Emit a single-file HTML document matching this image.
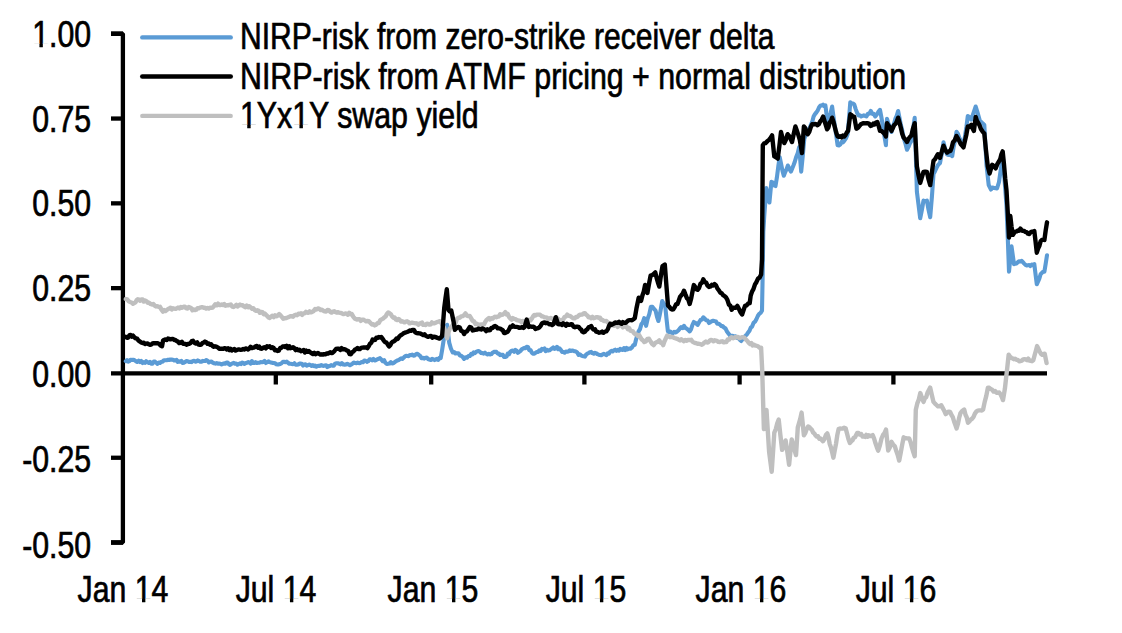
<!DOCTYPE html>
<html><head><meta charset="utf-8"><style>
html,body{margin:0;padding:0;background:#fff;width:1122px;height:633px;overflow:hidden}
body{position:relative;font-family:"Liberation Sans",sans-serif;color:#000;-webkit-text-stroke:0.7px #000}
.yl{position:absolute;right:1030.5px;font-size:36px;line-height:42px;white-space:nowrap;transform:scaleX(0.84);transform-origin:100% 0}
.xl{position:absolute;top:569px;width:200px;text-align:center;font-size:36px;line-height:42px;white-space:nowrap;transform:scaleX(0.84);transform-origin:50% 0}
.lg{position:absolute;left:239.8px;font-size:36px;line-height:42px;white-space:nowrap;transform:scaleX(0.84);transform-origin:0 0}
svg{position:absolute;left:0;top:0}
.one{display:inline-block;clip-path:polygon(0 0,100% 0,100% 70.5%,63% 70.5%,63% 100%,43% 100%,43% 70.5%,0 70.5%)}
</style></head><body>
<svg width="1122" height="633" viewBox="0 0 1122 633">
<g stroke="#000" stroke-width="4.3" fill="none">
<path d="M111,33.75 L122.9,33.75 L122.9,542.5 L111,542.5" stroke-linejoin="bevel"/>
<line x1="111" y1="373.35" x2="1047" y2="373.35"/>
<line x1="111" y1="33.75" x2="123" y2="33.75"/><line x1="111" y1="118.55" x2="123" y2="118.55"/><line x1="111" y1="203.35" x2="123" y2="203.35"/><line x1="111" y1="288.15" x2="123" y2="288.15"/><line x1="111" y1="457.75" x2="123" y2="457.75"/><line x1="111" y1="542.55" x2="123" y2="542.55"/><line x1="275.80" y1="373" x2="275.80" y2="384.5"/><line x1="431.20" y1="373" x2="431.20" y2="384.5"/><line x1="584.40" y1="373" x2="584.40" y2="384.5"/><line x1="739.60" y1="373" x2="739.60" y2="384.5"/><line x1="893.40" y1="373" x2="893.40" y2="384.5"/>
</g>
<g fill="none" stroke-linecap="round" stroke-linejoin="round">
<line x1="142.3" y1="37.4" x2="230.7" y2="37.4" stroke="#5b9bd5" stroke-width="4.4"/>
<line x1="142.3" y1="76.5" x2="230.7" y2="76.5" stroke="#000" stroke-width="4.6"/>
<line x1="142.3" y1="115.9" x2="230.7" y2="115.9" stroke="#bfbfbf" stroke-width="4.4"/>
<path d="M125.8,361.2 L127.0,360.1 L128.2,361.6 L129.4,361.1 L130.6,359.7 L131.8,360.0 L133.0,359.8 L134.4,360.1 L135.8,361.1 L137.2,361.9 L138.6,360.7 L140.0,362.1 L141.2,361.0 L142.5,363.0 L143.8,362.1 L145.0,362.9 L146.2,361.2 L147.5,362.3 L148.8,363.0 L150.0,361.8 L151.2,363.6 L152.5,363.6 L153.8,361.5 L155.0,361.6 L156.2,362.8 L157.5,363.9 L158.8,362.6 L160.0,362.9 L161.3,361.7 L162.7,361.7 L164.0,360.2 L165.3,360.2 L166.7,360.2 L168.0,359.8 L169.2,360.0 L170.4,359.5 L171.6,359.6 L172.9,359.8 L174.1,360.5 L175.3,360.3 L176.5,359.8 L177.7,361.9 L178.9,361.4 L180.1,361.8 L181.4,360.9 L182.6,363.0 L183.8,362.8 L185.0,362.1 L186.3,361.0 L187.7,361.3 L189.0,362.0 L190.3,361.8 L191.7,362.1 L193.0,360.9 L194.2,360.7 L195.4,361.7 L196.6,361.3 L197.8,360.4 L199.0,361.1 L200.2,361.8 L201.4,361.7 L202.6,360.9 L203.8,361.1 L205.0,360.9 L206.3,360.1 L207.6,360.8 L208.9,362.5 L210.2,361.8 L211.5,361.5 L212.8,362.7 L214.1,363.3 L215.4,363.6 L216.7,363.1 L218.0,363.7 L219.2,363.6 L220.4,363.7 L221.6,364.4 L222.9,363.8 L224.1,363.4 L225.3,363.7 L226.5,362.6 L227.7,362.6 L228.9,364.2 L230.1,364.9 L231.4,363.9 L232.6,363.4 L233.8,362.9 L235.0,363.7 L236.2,363.6 L237.4,364.7 L238.6,364.1 L239.8,363.4 L241.0,364.1 L242.2,362.5 L243.4,363.1 L244.6,364.0 L245.9,363.0 L247.1,362.7 L248.3,362.1 L249.5,362.7 L250.7,363.6 L251.9,361.2 L253.1,363.0 L254.3,363.0 L255.5,362.1 L256.8,363.0 L258.1,362.7 L259.4,362.8 L260.7,362.1 L262.0,362.2 L263.2,361.9 L264.5,361.0 L265.8,363.0 L267.1,362.3 L268.4,361.4 L269.7,362.1 L271.0,362.5 L272.3,362.9 L273.6,363.0 L275.0,363.3 L276.3,364.2 L277.6,364.5 L278.9,364.4 L280.2,364.0 L281.6,363.2 L282.9,361.8 L284.2,361.9 L285.5,362.1 L286.8,361.6 L288.0,362.8 L289.3,363.7 L290.6,363.8 L291.9,364.0 L293.1,364.3 L294.4,363.2 L295.7,364.8 L296.9,364.7 L298.2,364.5 L299.4,363.6 L300.6,363.6 L301.8,363.7 L303.1,365.6 L304.3,364.5 L305.5,364.3 L306.7,365.7 L307.9,365.1 L309.1,364.6 L310.4,364.9 L311.6,365.9 L312.8,365.2 L314.0,366.1 L315.2,365.6 L316.4,366.6 L317.6,366.0 L318.8,365.7 L320.0,366.0 L321.2,365.0 L322.5,365.8 L323.7,365.9 L324.9,365.4 L326.1,365.2 L327.3,367.1 L328.5,366.1 L329.7,366.1 L331.1,365.1 L332.4,365.7 L333.8,365.8 L335.1,363.6 L336.5,363.2 L337.8,363.2 L339.2,363.7 L340.6,364.3 L341.9,363.1 L343.3,364.5 L344.6,364.6 L346.0,364.4 L347.3,363.7 L348.7,364.5 L350.0,365.3 L351.2,364.6 L352.5,363.6 L353.7,362.6 L355.0,362.9 L356.4,363.3 L357.7,362.6 L359.0,363.1 L360.4,362.9 L361.7,362.0 L363.0,362.3 L364.3,360.5 L365.6,360.7 L366.9,361.8 L368.2,361.2 L369.5,359.4 L370.8,359.4 L372.1,360.3 L373.4,358.9 L374.7,360.5 L376.1,360.0 L377.4,359.2 L378.7,358.8 L380.0,358.2 L381.3,359.4 L382.7,361.2 L384.1,360.1 L385.4,362.8 L386.8,364.0 L388.2,363.8 L389.5,363.5 L390.8,362.1 L392.1,363.4 L393.4,363.2 L394.7,362.1 L396.0,361.2 L397.3,360.4 L398.6,360.3 L399.8,359.3 L401.1,358.4 L402.3,358.9 L403.6,357.7 L404.8,356.5 L406.1,355.7 L407.3,356.0 L408.5,356.1 L409.8,355.0 L411.0,355.2 L412.3,354.6 L413.5,355.6 L414.8,355.4 L416.0,354.2 L417.4,353.7 L418.8,354.9 L420.1,355.9 L421.5,358.2 L422.9,357.7 L424.2,358.6 L425.5,357.7 L426.8,357.6 L428.1,359.0 L429.5,359.6 L430.8,360.0 L432.1,358.8 L433.4,359.4 L434.6,360.1 L435.8,359.4 L437.0,358.8 L438.3,359.8 L439.5,357.8 L440.7,358.2 L442.1,350.2 L443.5,341.1 L444.7,334.7 L445.9,329.4 L447.1,324.8 L449.2,342.6 L450.9,348.5 L452.7,352.5 L454.1,352.0 L455.5,353.5 L457.0,353.3 L458.4,353.2 L459.8,355.4 L461.2,355.7 L462.7,357.1 L464.1,358.9 L465.5,357.4 L466.9,357.8 L468.4,356.1 L469.8,356.0 L471.2,353.9 L472.4,354.5 L473.7,352.4 L474.9,353.1 L476.1,351.8 L477.3,351.3 L478.6,351.1 L479.8,351.8 L481.1,353.0 L482.4,353.1 L483.7,353.6 L485.0,352.7 L486.2,353.7 L487.5,354.4 L488.8,353.8 L490.1,354.4 L491.4,354.1 L492.6,352.7 L493.9,351.9 L495.1,351.8 L496.4,351.9 L497.7,353.6 L498.9,353.5 L500.2,355.1 L501.5,354.7 L502.8,354.9 L504.0,356.9 L505.3,356.9 L506.6,356.6 L507.8,353.6 L509.0,354.2 L510.3,351.7 L511.5,350.7 L512.8,350.6 L514.1,351.8 L515.4,350.0 L516.6,350.8 L517.9,352.8 L519.2,351.9 L520.5,350.9 L521.7,349.3 L523.0,348.6 L524.2,347.9 L525.5,348.2 L526.7,346.8 L528.0,347.0 L529.2,350.1 L530.5,350.0 L531.8,352.6 L533.0,353.6 L534.3,353.8 L535.6,352.7 L536.8,352.0 L538.1,351.9 L539.4,350.3 L540.7,351.0 L541.9,348.9 L543.2,349.4 L544.5,348.5 L545.7,351.2 L547.0,349.8 L548.2,350.6 L549.5,350.3 L550.7,349.4 L552.0,348.5 L553.2,347.4 L554.5,348.9 L555.7,348.5 L557.0,346.8 L558.3,349.2 L559.5,348.4 L560.8,349.9 L562.1,351.9 L563.4,352.0 L564.6,352.7 L565.9,351.5 L567.2,351.7 L568.4,351.5 L569.7,350.3 L570.9,350.9 L572.2,350.6 L573.5,350.8 L574.7,351.3 L576.0,351.5 L577.3,352.6 L578.5,354.9 L579.8,354.3 L581.1,355.4 L582.3,356.0 L583.6,356.3 L584.9,356.6 L586.1,354.6 L587.4,353.6 L588.7,353.0 L589.9,352.2 L591.2,351.9 L592.5,353.2 L593.7,353.7 L595.0,352.8 L596.2,353.3 L597.5,354.2 L598.7,354.7 L600.0,355.0 L601.3,355.3 L602.6,354.4 L603.8,353.9 L605.1,354.5 L606.4,355.1 L607.6,353.3 L608.9,353.7 L610.1,351.7 L611.4,350.9 L612.6,351.5 L613.9,350.4 L615.2,349.7 L616.4,350.8 L617.7,349.9 L619.0,350.6 L620.2,348.8 L621.5,349.5 L622.8,350.0 L624.0,348.1 L625.3,350.1 L626.6,348.0 L627.8,349.3 L629.1,348.5 L630.5,348.7 L632.0,347.4 L633.4,345.2 L634.8,344.7 L636.1,339.3 L637.3,335.9 L638.6,331.4 L640.0,329.1 L641.4,324.3 L642.8,322.4 L644.2,318.2 L646.1,325.8 L647.7,318.6 L649.3,314.1 L650.9,306.8 L652.5,306.9 L654.0,308.9 L655.6,310.6 L657.0,316.8 L658.4,321.0 L659.7,315.1 L660.9,308.7 L662.2,301.1 L663.7,303.8 L665.1,304.9 L666.5,318.7 L667.9,331.4 L669.1,332.3 L670.3,331.6 L671.5,332.7 L672.7,333.3 L674.1,331.8 L675.5,332.4 L676.9,331.6 L678.3,330.5 L679.7,328.7 L681.1,327.1 L682.6,328.1 L684.0,325.8 L685.4,327.9 L686.9,328.7 L688.3,330.1 L689.7,331.4 L691.1,329.1 L692.4,325.0 L693.8,322.0 L695.1,322.7 L696.3,323.5 L697.6,324.9 L699.0,322.4 L700.5,320.0 L701.9,319.6 L703.3,317.3 L704.7,318.5 L706.1,320.3 L707.6,320.5 L709.0,323.0 L710.4,322.2 L711.8,321.2 L713.2,320.7 L714.6,321.1 L716.0,321.5 L717.3,323.8 L718.7,323.7 L720.0,324.6 L721.4,326.1 L722.7,326.1 L724.1,327.7 L725.5,328.4 L727.0,331.6 L728.4,333.4 L729.8,335.3 L731.2,335.9 L732.6,335.7 L734.1,336.5 L735.5,336.3 L736.9,338.0 L738.4,338.0 L739.8,339.8 L741.2,341.0 L742.6,339.3 L744.0,337.0 L745.5,335.8 L746.9,334.4 L748.2,332.3 L749.4,330.9 L750.7,327.7 L752.1,326.6 L753.5,322.9 L755.0,321.7 L756.4,319.2 L757.8,316.0 L759.2,313.9 L760.6,312.9 L762.0,310.7 L762.6,278.4 L763.3,232.0 L764.2,216.8 L766.3,188.0 L767.8,196.2 L769.4,202.5 L771.4,181.9 L772.8,182.4 L774.1,185.3 L775.5,186.0 L776.9,177.4 L778.3,166.4 L779.7,157.3 L781.1,163.9 L782.4,170.4 L783.8,175.7 L785.2,172.0 L786.5,169.4 L787.9,165.5 L789.5,169.1 L791.0,171.6 L792.3,168.3 L793.5,165.3 L794.8,161.8 L796.1,157.3 L797.7,153.3 L799.2,147.0 L801.2,171.6 L802.8,155.4 L804.3,138.8 L805.6,135.4 L806.8,133.1 L808.1,130.4 L809.4,128.5 L810.8,125.1 L812.2,121.9 L813.6,116.6 L815.0,114.1 L816.4,112.4 L817.8,110.3 L819.1,107.3 L820.5,105.5 L821.7,105.5 L823.0,104.7 L824.2,106.1 L825.4,105.5 L827.7,123.2 L829.2,116.6 L830.6,113.3 L832.1,106.6 L833.5,117.0 L834.9,126.3 L836.2,135.1 L837.6,145.3 L838.9,145.4 L840.2,144.6 L841.6,141.8 L842.9,142.4 L844.2,140.9 L845.9,138.4 L847.6,134.2 L849.0,118.6 L850.3,102.2 L851.6,103.4 L852.9,103.5 L854.2,104.4 L855.7,109.1 L857.1,112.9 L858.6,115.4 L859.9,115.3 L861.2,116.5 L862.5,115.8 L863.8,115.3 L865.1,115.9 L866.4,116.5 L867.9,113.8 L869.3,113.8 L870.8,111.0 L872.3,113.9 L873.7,113.8 L875.2,116.5 L876.8,114.5 L878.4,111.9 L880.0,109.9 L881.5,117.8 L883.0,127.1 L884.4,135.8 L885.9,145.3 L887.0,118.8 L888.5,123.8 L890.0,126.4 L891.5,132.0 L892.8,127.1 L894.1,123.5 L895.5,118.3 L896.8,115.5 L898.1,111.0 L899.5,117.9 L900.9,125.1 L902.2,130.2 L903.6,137.6 L905.3,143.1 L907.0,149.7 L908.5,146.9 L909.9,143.3 L911.4,140.9 L913.0,129.5 L914.7,117.7 L916.9,191.8 L918.5,204.5 L920.2,218.3 L921.9,209.9 L923.5,200.6 L925.2,201.3 L926.9,200.6 L928.5,209.6 L930.2,217.2 L931.9,196.8 L933.5,174.1 L935.0,171.2 L936.4,168.1 L937.9,165.2 L940.0,163.0 L941.8,153.5 L943.5,142.2 L945.2,148.9 L947.0,154.3 L948.3,154.9 L949.6,154.9 L950.9,155.1 L952.2,156.1 L953.6,147.0 L955.1,140.6 L956.5,131.7 L957.9,133.6 L959.3,137.9 L960.7,140.2 L962.1,144.0 L963.5,145.7 L964.9,136.5 L966.4,127.1 L967.8,116.1 L969.5,117.0 L971.3,119.6 L972.8,115.2 L974.2,111.0 L975.7,106.5 L977.1,111.0 L978.6,116.4 L980.0,121.3 L981.4,122.1 L982.9,123.7 L984.3,124.8 L986.5,165.0 L988.7,185.0 L991.0,189.5 L992.5,187.6 L994.0,188.0 L995.5,188.1 L997.0,188.5 L999.0,182.0 L1001.0,168.0 L1002.7,155.0 L1004.0,171.8 L1005.2,188.4 L1006.5,205.8 L1007.8,238.5 L1009.0,271.6 L1010.2,259.6 L1011.5,246.3 L1012.8,255.6 L1014.0,264.1 L1015.3,263.6 L1016.6,263.4 L1017.8,262.2 L1019.1,261.3 L1020.4,261.5 L1021.7,260.9 L1022.9,262.2 L1024.2,263.6 L1025.5,264.9 L1026.7,265.5 L1028.0,265.3 L1029.3,265.1 L1030.5,266.0 L1031.8,264.5 L1033.0,265.1 L1034.3,264.1 L1035.5,274.0 L1036.8,284.3 L1038.1,281.5 L1039.3,278.7 L1040.6,274.2 L1041.9,272.9 L1043.1,271.7 L1044.4,271.6 L1045.7,263.7 L1047.0,255.2" stroke="#5b9bd5" stroke-width="4.1"/>
<path d="M125.8,299.0 L127.2,299.4 L128.6,301.1 L130.0,302.0 L131.5,302.5 L133.0,303.7 L134.2,303.1 L135.4,302.4 L136.6,300.3 L137.8,299.3 L139.0,299.7 L140.2,300.7 L141.4,299.4 L142.6,299.5 L143.8,301.5 L145.0,300.5 L146.4,301.2 L147.8,302.9 L149.2,302.8 L150.6,304.0 L152.0,304.5 L153.3,304.0 L154.7,305.6 L156.0,306.5 L157.3,306.1 L158.7,307.0 L160.0,306.8 L161.5,309.6 L163.0,311.6 L164.2,310.0 L165.5,311.0 L166.8,310.0 L168.0,309.2 L169.2,308.5 L170.5,307.7 L171.8,309.5 L173.0,308.3 L174.2,308.7 L175.5,308.9 L176.8,308.3 L178.0,307.6 L179.4,308.5 L180.8,307.0 L182.2,307.8 L183.6,306.8 L185.0,306.8 L186.2,308.2 L187.5,308.5 L188.8,307.0 L190.0,307.5 L191.2,308.1 L192.5,310.3 L193.8,309.4 L195.0,310.0 L196.2,309.7 L197.5,308.3 L198.8,308.2 L200.0,307.6 L201.2,307.3 L202.5,307.2 L203.8,307.8 L205.0,307.8 L206.2,308.6 L207.5,308.0 L208.8,308.6 L210.0,307.6 L211.3,307.8 L212.7,307.5 L214.0,306.1 L215.3,304.2 L216.7,305.2 L218.0,303.7 L219.2,305.0 L220.5,305.1 L221.8,304.5 L223.0,305.0 L224.2,304.0 L225.5,305.7 L226.8,305.3 L228.0,305.3 L229.4,304.9 L230.8,304.5 L232.2,306.6 L233.6,307.0 L235.0,306.0 L236.3,304.9 L237.5,306.4 L238.8,305.4 L240.0,304.6 L241.3,305.3 L242.7,305.1 L244.0,306.6 L245.4,307.2 L246.7,305.5 L248.1,307.2 L249.4,306.2 L250.8,307.6 L252.1,308.7 L253.4,308.3 L254.8,310.1 L256.1,310.9 L257.4,310.3 L258.7,310.8 L259.9,312.8 L261.1,311.9 L262.4,312.2 L263.6,314.2 L264.8,313.6 L266.0,314.8 L267.3,316.1 L268.5,317.4 L269.7,317.9 L271.1,316.5 L272.4,315.7 L273.8,317.1 L275.1,315.2 L276.5,316.2 L277.8,315.5 L279.2,314.0 L280.5,315.3 L281.9,317.0 L283.2,318.7 L284.6,318.3 L286.0,318.1 L287.5,317.5 L288.9,316.9 L290.3,316.3 L291.6,316.3 L293.0,316.7 L294.3,315.3 L295.7,314.8 L297.0,315.2 L298.4,313.7 L299.7,314.0 L300.9,313.3 L302.2,314.8 L303.4,313.5 L304.6,313.4 L305.9,311.9 L307.1,312.7 L308.3,312.9 L309.6,311.4 L310.8,312.4 L312.2,311.9 L313.6,311.1 L315.1,308.9 L316.5,309.5 L317.9,308.4 L319.3,308.9 L320.6,310.0 L322.0,309.8 L323.4,310.8 L324.8,311.4 L326.1,311.6 L327.5,310.0 L328.8,310.2 L330.2,311.8 L331.5,312.6 L332.9,311.6 L334.1,311.3 L335.4,312.0 L336.6,312.6 L337.8,312.2 L339.1,312.6 L340.3,312.8 L341.5,313.2 L342.8,314.0 L344.0,314.0 L345.3,313.5 L346.6,313.7 L347.9,314.7 L349.2,312.9 L350.5,314.2 L351.8,314.0 L353.4,316.9 L355.0,318.7 L356.9,319.5 L358.2,319.2 L359.5,319.2 L360.8,320.8 L362.1,319.6 L363.5,319.7 L364.8,320.5 L366.1,321.3 L367.4,321.0 L368.9,321.2 L370.5,322.9 L372.0,324.5 L373.3,324.2 L374.7,325.4 L376.0,324.7 L377.4,323.3 L378.8,323.1 L380.2,320.2 L381.6,319.4 L383.0,318.6 L384.3,317.4 L385.6,316.5 L386.9,313.9 L388.2,312.5 L389.5,313.2 L390.8,314.2 L392.1,316.5 L393.4,317.8 L394.6,317.5 L395.9,319.5 L397.1,320.1 L398.4,319.0 L399.6,319.7 L400.9,321.5 L402.1,321.2 L403.3,321.8 L404.6,322.4 L405.8,321.6 L407.1,321.3 L408.3,322.0 L409.6,323.4 L410.8,323.0 L412.0,322.6 L413.3,322.9 L414.5,323.1 L415.8,323.3 L417.0,323.4 L418.3,324.7 L419.5,323.8 L420.7,323.0 L422.0,322.6 L423.2,324.9 L424.5,324.7 L425.7,325.0 L427.0,323.6 L428.2,323.8 L429.4,324.6 L430.7,324.3 L431.9,322.4 L433.1,323.4 L434.3,323.4 L435.6,322.7 L436.8,322.1 L438.4,321.7 L440.0,321.2 L441.4,323.1 L442.8,325.6 L444.2,328.3 L445.6,332.6 L447.1,338.3 L448.5,332.3 L449.9,328.3 L451.3,327.1 L452.8,325.0 L454.2,324.1 L455.6,322.7 L457.0,318.7 L458.4,317.7 L459.8,317.8 L461.2,316.4 L462.7,316.1 L464.1,315.2 L465.5,313.4 L466.9,315.6 L468.4,316.1 L469.8,316.0 L471.2,318.4 L472.6,320.9 L474.1,321.4 L475.5,324.1 L476.9,323.8 L478.3,324.8 L479.8,324.6 L481.2,324.5 L482.6,324.8 L483.9,324.4 L485.1,322.2 L486.4,320.1 L487.6,319.0 L488.9,318.1 L490.1,319.4 L491.4,318.2 L492.6,318.6 L493.9,317.4 L495.1,316.7 L496.4,317.2 L497.7,316.6 L498.9,316.5 L500.2,314.2 L501.5,315.0 L502.8,314.6 L504.0,313.6 L505.3,312.1 L506.6,314.5 L507.8,314.1 L509.1,317.1 L510.3,318.4 L511.6,319.6 L512.8,318.0 L514.1,318.8 L515.4,319.1 L516.6,320.0 L517.9,320.3 L519.2,320.6 L520.4,321.1 L521.7,322.3 L522.9,320.9 L524.2,321.5 L525.4,322.1 L526.7,323.5 L528.0,321.2 L529.2,319.7 L530.5,320.4 L531.7,318.8 L533.0,316.5 L534.3,315.0 L535.5,315.6 L536.8,314.6 L538.1,314.6 L539.4,314.6 L540.7,315.2 L541.9,316.4 L543.2,316.5 L544.5,317.3 L545.7,317.4 L547.0,317.6 L548.2,319.0 L549.5,318.5 L550.7,317.9 L552.0,318.8 L553.3,319.1 L554.5,318.2 L555.8,318.4 L557.0,318.0 L558.3,318.9 L559.5,320.0 L560.8,321.0 L562.1,320.0 L563.4,319.1 L564.6,316.9 L565.9,316.6 L567.2,314.6 L568.5,315.7 L569.7,316.0 L571.0,316.6 L572.2,317.6 L573.5,318.4 L574.8,318.3 L576.0,317.0 L577.3,317.0 L578.5,315.8 L579.8,314.7 L581.1,314.7 L582.3,314.5 L583.6,313.4 L584.9,313.1 L586.1,314.7 L587.4,315.5 L588.6,317.4 L589.9,317.2 L591.2,318.2 L592.4,316.9 L593.7,318.2 L594.9,317.9 L596.2,317.2 L597.5,317.1 L598.8,318.1 L600.0,317.7 L601.3,319.9 L602.6,320.0 L603.9,321.0 L605.1,321.2 L606.4,321.0 L607.6,322.2 L608.9,323.2 L610.1,323.6 L611.4,323.2 L612.6,325.2 L613.9,325.8 L615.2,324.7 L616.4,325.1 L617.7,326.8 L619.0,325.1 L620.2,325.3 L621.5,325.4 L622.8,327.4 L624.0,325.8 L625.3,326.7 L626.6,326.3 L627.8,329.1 L629.1,328.1 L630.4,330.7 L631.6,331.0 L632.9,331.4 L634.1,333.2 L635.4,334.4 L636.6,334.5 L637.8,336.0 L639.1,335.1 L640.3,337.2 L641.6,339.4 L643.0,340.4 L644.3,342.0 L645.9,341.4 L647.4,338.9 L649.0,338.8 L650.6,341.5 L652.2,344.0 L653.8,345.1 L655.2,342.9 L656.5,342.3 L657.9,341.7 L659.3,340.4 L660.6,342.8 L661.9,342.9 L663.2,345.1 L664.5,341.2 L665.9,338.2 L667.2,335.6 L668.6,336.4 L670.0,337.2 L671.5,336.8 L672.9,337.2 L674.3,338.0 L675.7,338.4 L677.1,338.8 L678.6,339.6 L680.0,340.4 L681.3,339.3 L682.6,340.3 L683.9,341.3 L685.2,339.9 L686.5,340.7 L687.8,340.0 L690.0,340.0 L691.3,339.8 L692.5,341.7 L693.8,342.5 L695.1,343.0 L696.3,343.2 L697.6,343.8 L699.0,343.8 L700.5,344.1 L701.9,344.8 L703.3,343.8 L704.6,342.3 L705.8,341.6 L707.1,342.5 L708.4,342.3 L709.6,340.7 L710.9,340.0 L712.1,340.2 L713.4,341.2 L714.6,340.2 L715.9,340.7 L717.1,340.9 L718.4,341.9 L719.7,342.1 L721.1,341.5 L722.4,341.3 L723.8,342.4 L725.1,341.9 L726.4,342.0 L727.7,339.5 L729.1,339.6 L730.4,337.9 L731.7,337.2 L733.0,338.2 L734.2,337.7 L735.5,337.1 L736.8,337.2 L738.0,336.9 L739.3,338.2 L740.6,337.8 L741.8,337.3 L743.1,337.2 L744.5,337.8 L746.0,339.7 L747.4,341.0 L748.8,342.9 L750.1,344.0 L751.3,343.0 L752.6,345.5 L753.9,344.7 L755.1,345.5 L756.4,345.7 L758.0,346.3 L759.5,347.8 L761.1,347.6 L762.2,370.0 L763.9,429.1 L765.2,420.3 L766.5,410.0 L767.8,431.0 L769.1,451.7 L770.4,461.7 L771.7,471.7 L773.0,452.7 L774.3,432.6 L775.8,429.1 L777.2,423.6 L778.7,419.5 L780.4,435.3 L782.1,449.9 L783.9,446.3 L785.6,440.4 L787.4,452.5 L789.1,464.7 L790.4,451.5 L791.7,439.5 L793.1,444.1 L794.6,450.4 L796.0,455.1 L797.8,427.3 L799.1,422.8 L800.3,418.6 L801.6,412.6 L803.9,435.2 L805.3,433.1 L806.8,428.8 L808.2,426.5 L809.4,427.1 L810.6,428.7 L811.9,429.9 L813.1,432.5 L814.3,433.4 L815.5,435.4 L816.8,436.6 L818.0,436.2 L819.3,438.7 L820.5,438.5 L821.8,439.9 L823.0,441.2 L824.4,439.1 L825.9,435.0 L827.3,433.4 L828.5,437.3 L829.7,443.9 L831.0,447.5 L832.2,452.5 L833.4,457.7 L834.7,450.7 L836.0,443.8 L837.3,435.1 L838.6,429.1 L840.0,428.5 L841.4,428.6 L842.8,428.5 L844.2,427.7 L845.6,428.2 L847.0,433.3 L848.5,439.2 L849.9,443.0 L851.2,441.3 L852.5,440.3 L853.7,437.8 L855.0,437.3 L857.2,432.9 L858.5,433.0 L859.8,434.6 L861.2,434.0 L862.5,436.5 L863.8,436.2 L865.1,437.0 L866.3,434.9 L867.6,436.8 L868.9,435.3 L870.2,436.1 L871.4,435.9 L872.7,435.1 L874.1,438.5 L875.5,443.3 L876.8,447.1 L878.2,450.6 L879.9,445.3 L881.5,438.5 L883.0,435.0 L884.5,433.2 L886.0,429.6 L888.2,450.6 L889.9,447.3 L891.5,441.8 L893.1,444.4 L894.8,446.2 L896.3,451.1 L897.7,454.9 L899.2,460.6 L900.7,452.8 L902.2,444.7 L903.7,437.3 L905.1,438.1 L906.5,438.3 L907.8,438.4 L909.2,438.5 L910.6,442.2 L912.0,447.7 L913.3,452.1 L914.7,456.2 L915.8,409.7 L917.3,403.4 L918.8,399.6 L920.3,393.1 L922.0,397.9 L923.6,401.9 L924.9,398.1 L926.2,397.2 L927.6,392.5 L928.9,390.1 L930.2,387.6 L931.9,395.3 L933.5,401.9 L935.0,403.6 L936.5,405.0 L938.0,406.4 L939.6,406.2 L941.3,405.3 L942.8,408.1 L944.2,410.7 L945.7,414.1 L947.2,412.6 L948.6,411.6 L950.1,411.9 L951.5,415.0 L952.8,417.1 L954.1,421.5 L955.3,424.8 L956.6,428.5 L957.9,424.0 L959.1,418.0 L960.4,413.3 L961.7,411.5 L962.9,410.5 L964.2,409.5 L965.5,414.8 L966.7,417.3 L968.0,422.8 L969.3,421.5 L970.5,419.7 L971.8,419.0 L973.4,417.1 L974.9,413.6 L976.5,411.4 L977.8,410.6 L979.1,410.4 L980.5,410.4 L981.8,410.5 L983.1,409.5 L984.7,401.9 L986.3,395.9 L987.9,387.8 L989.3,387.8 L990.8,389.1 L992.2,389.7 L993.6,391.6 L995.0,390.9 L996.4,392.7 L997.8,392.8 L999.2,392.5 L1000.5,394.3 L1001.7,396.8 L1003.0,400.1 L1004.9,388.7 L1006.2,377.1 L1007.4,366.6 L1008.7,354.6 L1010.0,356.6 L1011.2,357.7 L1012.5,358.4 L1013.8,359.2 L1015.1,358.7 L1016.5,359.9 L1017.8,360.0 L1019.1,361.3 L1020.4,361.0 L1021.8,360.7 L1023.1,359.4 L1024.5,359.2 L1025.8,359.4 L1027.0,360.2 L1028.3,358.6 L1029.5,360.6 L1030.8,360.9 L1032.0,361.2 L1033.3,360.3 L1034.6,355.3 L1035.8,351.0 L1037.1,346.1 L1038.4,348.8 L1039.6,351.5 L1040.9,353.7 L1042.2,354.8 L1043.4,354.1 L1044.7,353.7 L1046.6,363.1" stroke="#bfbfbf" stroke-width="4.4"/>
<path d="M125.8,336.9 L127.0,337.8 L128.2,337.5 L129.4,335.2 L130.6,335.0 L131.8,336.6 L133.0,335.6 L134.4,337.4 L135.8,338.4 L137.2,338.7 L138.6,340.7 L140.0,341.6 L141.2,342.5 L142.5,343.0 L143.8,342.6 L145.0,344.0 L146.2,343.7 L147.5,343.5 L148.8,344.2 L150.0,344.8 L151.2,344.6 L152.5,343.5 L153.8,343.2 L155.0,343.2 L156.4,343.3 L157.8,343.3 L159.2,343.9 L160.6,345.6 L162.0,346.3 L163.0,340.8 L164.2,339.8 L165.5,339.4 L166.8,340.0 L168.0,338.5 L169.2,338.9 L170.5,339.4 L171.8,339.0 L173.0,338.9 L174.2,340.0 L175.5,340.0 L176.8,341.2 L178.0,341.6 L179.2,343.1 L180.5,342.6 L181.8,341.7 L183.0,343.7 L184.2,343.8 L185.5,344.0 L186.8,344.7 L188.0,344.0 L189.2,343.8 L190.5,343.1 L191.8,341.2 L193.0,340.8 L194.4,342.8 L195.8,343.5 L197.2,342.4 L198.6,344.6 L200.0,344.8 L201.2,344.5 L202.5,343.1 L203.8,342.5 L205.0,341.6 L206.2,342.2 L207.5,343.8 L208.8,343.4 L210.0,344.7 L211.2,344.2 L212.5,346.0 L213.8,346.7 L215.0,346.3 L216.4,346.7 L217.8,347.4 L219.2,348.7 L220.6,348.8 L222.0,348.7 L223.2,348.8 L224.4,348.2 L225.7,348.5 L226.9,349.5 L228.1,348.3 L229.3,350.2 L230.6,348.8 L231.8,350.4 L233.0,349.5 L234.3,349.0 L235.6,350.6 L236.8,350.0 L238.1,349.5 L239.4,349.5 L240.7,349.9 L241.9,349.7 L243.2,349.0 L244.5,349.5 L245.7,348.4 L246.9,348.8 L248.2,349.5 L249.4,348.4 L250.6,346.7 L251.8,348.1 L253.1,347.6 L254.3,347.6 L255.5,346.3 L256.8,346.0 L258.0,347.8 L259.3,346.7 L260.5,348.6 L261.8,348.7 L263.1,347.8 L264.4,347.2 L265.8,348.4 L267.1,346.2 L268.4,346.8 L269.7,346.3 L271.0,347.9 L272.3,347.3 L273.6,348.0 L275.0,350.3 L276.3,350.0 L277.6,351.0 L278.9,350.6 L280.2,348.0 L281.4,347.8 L282.7,346.5 L284.0,346.3 L285.3,347.0 L286.6,345.8 L287.9,348.2 L289.2,346.2 L290.5,348.2 L291.8,347.9 L293.1,347.2 L294.4,348.3 L295.6,350.1 L296.9,349.0 L298.2,350.3 L299.5,349.8 L300.9,351.2 L302.2,350.7 L303.6,350.1 L304.9,352.5 L306.3,350.7 L307.6,351.8 L308.9,351.1 L310.2,352.2 L311.6,353.3 L312.9,354.0 L314.2,352.9 L315.5,354.2 L316.7,353.7 L318.0,352.9 L319.2,353.8 L320.4,354.5 L321.7,354.3 L322.9,354.6 L324.1,354.2 L325.4,354.4 L326.6,353.4 L327.9,353.7 L329.1,353.0 L330.4,352.3 L331.6,353.1 L332.9,352.6 L334.5,350.9 L336.0,349.0 L337.6,348.7 L338.9,348.7 L340.2,349.9 L341.6,348.2 L342.9,349.4 L344.2,349.1 L345.5,349.5 L346.9,350.7 L348.2,351.0 L349.6,354.1 L351.0,354.2 L352.3,352.1 L353.7,351.3 L355.0,349.5 L356.2,349.1 L357.5,348.0 L358.7,349.0 L359.9,349.0 L361.2,347.9 L362.4,347.6 L363.7,347.4 L364.9,347.5 L366.2,347.3 L367.4,348.1 L368.7,346.3 L370.0,343.8 L371.3,342.8 L372.6,339.5 L373.8,340.2 L375.1,339.9 L376.3,337.7 L377.6,337.9 L378.8,337.0 L380.1,337.5 L381.3,336.9 L382.6,338.8 L383.9,340.8 L385.2,342.2 L386.5,342.6 L387.8,344.6 L389.1,346.4 L390.3,345.2 L391.5,342.8 L392.8,341.6 L394.0,341.3 L395.2,340.3 L396.5,338.4 L397.8,338.9 L399.1,336.8 L400.4,335.4 L401.7,334.7 L403.0,333.8 L404.3,332.8 L405.6,332.5 L407.0,332.0 L408.4,331.4 L409.7,330.5 L411.1,330.8 L412.5,329.9 L413.9,329.9 L415.3,332.3 L416.7,333.1 L418.1,333.2 L419.5,333.4 L420.7,333.7 L422.0,334.4 L423.2,335.1 L424.5,334.3 L425.7,335.7 L427.0,336.5 L428.2,336.9 L429.6,336.1 L431.0,335.9 L432.3,337.6 L433.7,336.6 L435.1,336.9 L436.8,337.6 L438.5,338.3 L439.7,338.6 L440.9,337.2 L442.1,336.2 L444.2,308.4 L445.5,298.3 L446.8,289.2 L448.5,309.9 L449.9,311.4 L451.3,310.6 L453.5,321.2 L454.9,329.8 L456.6,328.0 L458.4,326.9 L459.8,327.5 L461.2,330.9 L462.7,331.3 L464.1,334.0 L465.5,331.8 L467.0,331.3 L468.4,329.1 L469.8,326.9 L471.2,327.5 L472.7,330.5 L474.1,330.1 L475.5,329.7 L477.0,329.6 L478.4,328.7 L479.8,329.1 L481.1,329.5 L482.4,328.4 L483.7,329.1 L484.9,329.5 L486.2,331.1 L487.5,329.2 L488.8,330.4 L490.1,330.1 L491.4,327.9 L492.6,327.9 L493.9,326.6 L495.2,326.0 L496.5,326.8 L497.7,328.4 L499.0,328.4 L500.2,328.6 L501.5,329.5 L502.8,330.2 L504.0,333.0 L505.3,333.0 L506.6,332.1 L507.8,331.6 L509.0,329.7 L510.3,326.8 L511.5,327.0 L512.8,325.4 L514.1,326.6 L515.4,326.9 L516.6,326.9 L517.9,327.1 L519.2,327.9 L521.0,327.5 L522.2,327.2 L523.4,327.9 L524.6,327.0 L526.7,319.5 L528.8,327.0 L530.2,326.3 L531.6,326.8 L533.0,326.6 L534.3,327.2 L535.5,329.0 L536.8,328.5 L538.1,328.1 L539.4,327.3 L540.6,325.9 L541.9,323.5 L543.2,322.8 L544.5,322.4 L545.7,323.2 L547.0,322.9 L548.2,323.5 L549.5,324.3 L550.7,324.1 L552.2,325.1 L553.6,324.0 L555.8,317.2 L558.0,324.0 L559.4,324.3 L560.8,324.1 L562.1,325.0 L563.3,323.3 L564.6,324.1 L565.9,325.7 L567.1,323.8 L568.4,324.7 L569.7,324.8 L570.9,324.2 L572.2,324.5 L573.5,326.7 L574.8,327.2 L576.0,326.7 L577.3,326.6 L578.6,326.8 L579.8,328.4 L581.1,329.4 L582.3,331.6 L583.6,332.3 L584.9,331.7 L586.1,330.1 L587.4,329.2 L588.7,327.2 L589.9,327.1 L591.2,326.0 L592.5,328.5 L593.7,329.5 L595.0,329.3 L596.2,331.7 L597.7,332.0 L599.2,332.7 L600.7,332.4 L602.1,331.6 L603.5,332.8 L605.0,331.6 L606.4,331.4 L607.7,329.4 L608.9,326.2 L610.2,323.9 L611.5,324.9 L612.7,324.2 L614.0,323.6 L615.2,322.4 L616.5,322.9 L617.7,322.9 L619.0,321.8 L620.2,323.1 L621.5,323.8 L622.8,322.1 L624.0,322.9 L625.3,322.9 L626.6,321.9 L627.8,320.8 L629.1,320.1 L630.5,320.1 L632.0,320.2 L633.4,319.2 L634.8,318.2 L636.4,308.8 L638.7,297.7 L641.1,300.8 L642.4,295.5 L643.8,291.4 L645.1,285.0 L647.4,293.0 L649.0,283.9 L650.6,275.6 L652.2,275.1 L653.7,273.8 L655.3,272.4 L656.6,277.8 L658.0,282.7 L659.3,286.6 L660.9,275.6 L662.5,266.0 L664.8,264.5 L666.4,285.3 L668.0,305.6 L669.3,306.7 L670.6,308.6 L671.9,309.5 L673.3,309.3 L674.7,307.1 L676.1,304.2 L677.5,304.0 L678.8,300.4 L680.0,296.9 L681.3,295.3 L682.7,293.7 L684.0,290.7 L685.4,294.4 L686.9,298.1 L688.3,299.5 L689.7,304.0 L691.1,298.8 L692.4,292.0 L693.8,285.1 L695.1,286.9 L696.3,289.2 L697.6,289.8 L699.0,288.1 L700.5,283.6 L701.9,282.8 L703.3,279.4 L704.7,281.9 L706.1,282.5 L707.6,285.7 L709.0,287.0 L710.4,286.5 L711.8,284.8 L713.2,285.6 L714.6,284.1 L716.0,285.4 L717.5,288.7 L718.9,290.4 L720.3,292.7 L721.7,293.3 L723.1,295.2 L724.6,296.1 L726.0,297.4 L727.4,299.8 L728.9,304.7 L730.3,305.6 L731.7,309.7 L733.1,307.6 L734.5,307.8 L736.0,307.7 L737.4,305.9 L739.0,309.1 L740.5,312.2 L742.1,314.5 L743.5,310.2 L745.0,305.9 L746.6,305.4 L748.1,303.6 L749.7,303.1 L750.7,295.5 L752.1,291.6 L753.5,288.9 L755.0,284.4 L756.4,282.2 L758.0,278.7 L759.5,277.7 L761.1,274.6 L762.0,259.5 L762.8,145.3 L764.1,143.4 L765.5,143.1 L767.7,140.9 L769.2,139.7 L770.6,137.9 L772.1,135.4 L774.3,156.4 L776.0,157.3 L777.7,158.6 L779.4,145.7 L781.0,132.0 L782.6,138.2 L784.3,143.1 L786.0,139.5 L787.6,134.2 L789.1,135.9 L790.5,138.6 L792.0,142.0 L793.7,134.0 L795.4,126.5 L796.9,130.8 L798.3,134.9 L799.8,139.8 L802.0,153.1 L803.9,126.5 L805.2,127.9 L806.4,131.8 L807.7,134.2 L809.2,132.0 L810.7,127.3 L812.2,124.3 L813.5,124.4 L814.8,124.0 L816.2,124.2 L817.5,125.2 L818.8,124.3 L820.3,121.3 L821.7,119.5 L823.2,116.6 L824.5,120.8 L825.8,125.2 L827.1,129.3 L828.4,127.4 L829.6,122.5 L830.9,121.4 L832.1,117.7 L833.5,121.9 L834.9,127.5 L836.2,132.5 L837.6,136.5 L838.9,136.9 L840.2,136.2 L841.6,137.3 L842.9,135.5 L844.2,136.5 L845.5,135.0 L846.8,132.5 L848.1,130.9 L850.3,114.3 L851.6,115.1 L852.9,116.7 L854.2,116.6 L856.4,128.7 L857.9,127.9 L859.3,126.1 L860.8,124.3 L862.2,123.6 L863.6,123.1 L865.0,123.4 L866.4,123.2 L867.8,123.1 L869.1,123.8 L870.5,125.9 L871.9,125.4 L873.3,123.6 L874.6,124.5 L876.0,122.6 L877.4,122.1 L878.7,126.2 L880.0,130.9 L881.5,130.9 L883.0,132.3 L884.4,133.6 L885.9,136.5 L887.0,123.2 L888.5,125.7 L890.0,127.5 L891.5,130.9 L892.8,128.1 L894.1,125.1 L895.5,123.9 L896.8,121.4 L898.1,117.7 L899.5,122.5 L900.9,128.0 L902.2,133.7 L903.6,137.6 L905.3,139.4 L907.0,142.0 L908.5,138.8 L909.9,137.0 L911.4,135.4 L913.0,128.6 L914.7,123.2 L916.9,166.3 L918.5,175.0 L920.2,182.9 L921.9,177.1 L923.5,171.9 L925.2,171.6 L926.9,171.9 L928.5,179.2 L930.2,185.1 L931.9,172.3 L933.5,160.8 L935.0,159.3 L936.4,156.7 L937.9,154.2 L940.0,157.8 L941.8,151.5 L943.5,145.7 L945.2,149.9 L947.0,152.6 L948.7,151.4 L950.4,150.9 L951.7,147.5 L953.0,142.2 L954.8,140.2 L956.5,136.1 L957.9,138.4 L959.3,141.1 L960.7,144.0 L962.1,145.7 L963.5,147.4 L964.9,141.0 L966.4,134.4 L967.8,126.5 L969.5,126.7 L971.3,124.8 L972.6,128.5 L973.9,130.9 L975.7,117.0 L977.0,121.1 L978.3,123.0 L979.6,125.5 L980.9,129.1 L982.6,131.6 L984.3,133.5 L986.0,150.4 L987.8,166.5 L989.6,173.5 L990.9,168.8 L992.2,164.8 L994.0,166.3 L995.7,168.3 L997.3,164.1 L998.9,161.5 L1000.2,159.2 L1001.4,154.4 L1002.7,151.4 L1004.0,164.4 L1005.2,178.5 L1006.5,190.6 L1007.8,213.3 L1009.0,237.5 L1010.3,216.0 L1011.5,226.6 L1012.8,234.9 L1014.1,233.0 L1015.3,231.7 L1016.6,231.4 L1017.9,230.4 L1019.1,230.7 L1020.4,228.6 L1021.7,230.4 L1022.9,230.9 L1024.2,231.0 L1025.5,232.1 L1026.7,232.2 L1028.0,233.7 L1029.3,234.0 L1030.5,232.4 L1031.8,231.6 L1033.0,232.0 L1034.3,231.1 L1035.5,241.1 L1036.8,252.7 L1038.1,248.5 L1039.3,246.1 L1040.6,241.3 L1041.9,239.9 L1043.1,239.6 L1044.4,240.0 L1045.7,230.4 L1047.0,222.3" stroke="#000" stroke-width="4.4"/>
</g>
</svg>
<div class="yl" style="top:13.55px"><span class="one">1</span>.00</div><div class="yl" style="top:98.55px">0.75</div><div class="yl" style="top:182.55px">0.50</div><div class="yl" style="top:268.05px">0.25</div><div class="yl" style="top:353.55px">0.00</div><div class="yl" style="top:438.55px">-0.25</div><div class="yl" style="top:524.50px">-0.50</div>
<div class="xl" style="left:23.30px">Jan <span class="one">1</span>4</div><div class="xl" style="left:176.05px">Jul <span class="one">1</span>4</div><div class="xl" style="left:333.20px">Jan <span class="one">1</span>5</div><div class="xl" style="left:486.40px">Jul <span class="one">1</span>5</div><div class="xl" style="left:641.10px">Jan <span class="one">1</span>6</div><div class="xl" style="left:795.90px">Jul <span class="one">1</span>6</div>
<div class="lg" style="top:16.2px;transform:scaleX(0.835)">NIRP-risk from zero-strike receiver delta</div>
<div class="lg" style="top:56.2px;transform:scaleX(0.8425)">NIRP-risk from ATMF pricing + normal distribution</div>
<div class="lg" style="top:94.8px;transform:scaleX(0.842)"><span class="one">1</span>Yx<span class="one">1</span>Y swap yield</div>
</body></html>
